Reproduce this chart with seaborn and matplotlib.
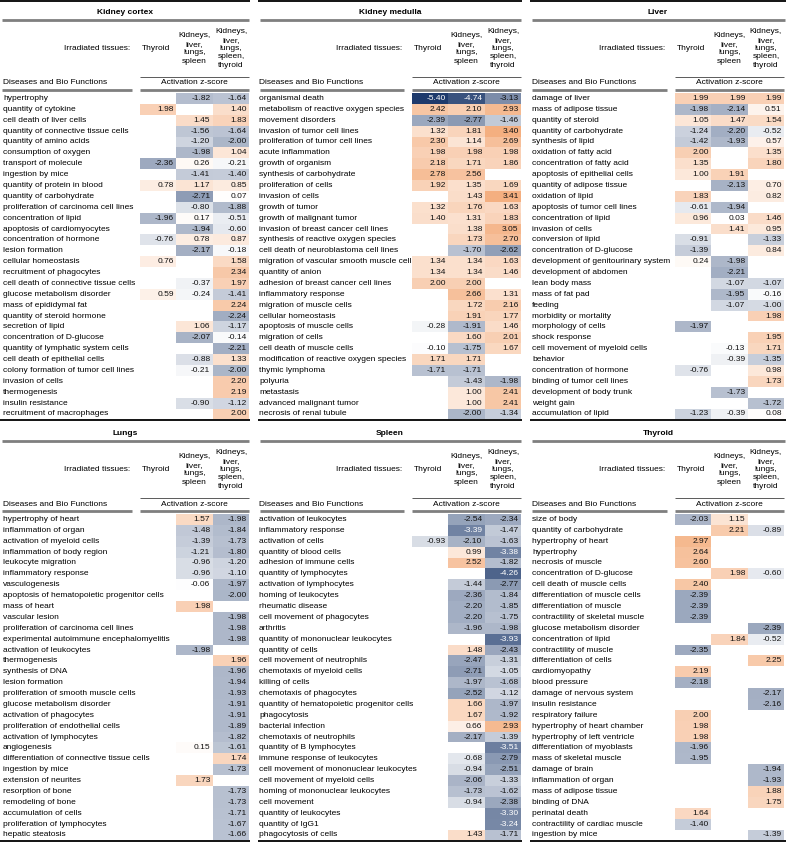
import numpy as np
import pandas as pd
import matplotlib
matplotlib.use("Agg")
import matplotlib.pyplot as plt
from matplotlib.colors import LinearSegmentedColormap
from matplotlib.lines import Line2D
import seaborn as sns

N = np.nan
COLUMNS = ["Thyroid", "Kidneys,\nliver,\nlungs,\nspleen", "Kidneys,\nliver,\nlungs,\nspleen,\nthyroid"]

# ---------------- Kidney cortex ----------------
cortex_labels = ["hypertrophy", "quantity of cytokine", "cell death of liver cells",
    "quantity of connective tissue cells", "quantity of amino acids", "consumption of oxygen",
    "transport of molecule", "ingestion by mice", "quantity of protein in blood",
    "quantity of carbohydrate", "proliferation of carcinoma cell lines", "concentration of lipid",
    "apoptosis of cardiomyocytes", "concentration of hormone", "lesion formation",
    "cellular homeostasis", "recruitment of phagocytes", "cell death of connective tissue cells",
    "glucose metabolism disorder", "mass of epididymal fat", "quantity of steroid hormone",
    "secretion of lipid", "concentration of D-glucose", "quantity of lymphatic system cells",
    "cell death of epithelial cells", "colony formation of tumor cell lines", "invasion of cells",
    "thermogenesis", "insulin resistance", "recruitment of macrophages"]
cortex_thyroid = [N, 1.98, N, N, N, N, -2.36, N, 0.78, N, N, -1.96, N, -0.76, N,
    0.76, N, N, 0.59, N, N, N, N, N, N, N, N, N, N, N]
cortex_kidneys = [-1.82, N, 1.45, -1.56, -1.20, -1.98, 0.26, -1.41, 1.17, -2.71, -0.80, 0.17,
    -1.94, 0.78, -2.17, N, N, -0.37, -0.24, N, N, 1.06, -2.07, N, -0.88, -0.21, N, N, -0.90, N]
cortex_all = [-1.64, 1.40, 1.83, -1.64, -2.00, 1.04, -0.21, -1.40, 0.85, 0.07, -1.88, -0.51,
    -0.60, 0.87, -0.18, 1.58, 2.34, 1.97, -1.41, 2.24, -2.24, -1.17, -0.14, -2.21, 1.33, -2.00,
    2.20, 2.19, -1.12, 2.00]

# ---------------- Kidney medulla ----------------
medulla_labels = ["organismal death", "metabolism of reactive oxygen species", "movement disorders",
    "invasion of tumor cell lines", "proliferation of tumor cell lines", "acute inflammation",
    "growth of organism", "synthesis of carbohydrate", "proliferation of cells", "invasion of cells",
    "growth of tumor", "growth of malignant tumor", "invasion of breast cancer cell lines",
    "synthesis of reactive oxygen species", "cell death of neuroblastoma cell lines",
    "migration of vascular smooth muscle cell", "quantity of anion",
    "adhesion of breast cancer cell lines", "inflammatory response", "migration of muscle cells",
    "cellular homeostasis", "apoptosis of muscle cells", "migration of cells",
    "cell death of muscle cells", "modification of reactive oxygen species", "thymic lymphoma",
    "polyuria", "metastasis", "advanced malignant tumor", "necrosis of renal tubule"]
medulla_thyroid = [-5.40, 2.42, -2.39, 1.32, 2.30, 1.98, 2.18, 2.78, 1.92, N, 1.32, 1.40, N, N, N,
    1.34, 1.34, 2.00, N, N, N, -0.28, N, -0.10, 1.71, -1.71, N, N, N, N]
medulla_kidneys = [-4.74, 2.10, -2.77, 1.81, 1.14, 1.98, 1.71, 2.56, 1.35, 1.43, 1.76, 1.31, 1.38,
    1.73, -1.70, 1.34, 1.34, 2.00, 2.66, 1.72, 1.91, -1.91, 1.60, -1.75, 1.71, -1.71, -1.43, 1.00,
    1.00, -2.00]
medulla_all = [-3.13, 2.93, -1.46, 3.40, 2.69, 1.98, 1.86, N, 1.69, 3.41, 1.63, 1.83, 3.05, 2.70,
    -2.62, 1.63, 1.46, N, 1.31, 2.16, 1.77, 1.46, 2.01, 1.67, N, N, -1.98, 2.41, 2.41, -1.34]

# ---------------- Liver ----------------
liver_labels = ["damage of liver", "mass of adipose tissue", "quantity of steroid",
    "quantity of carbohydrate", "synthesis of lipid", "oxidation of fatty acid",
    "concentration of fatty acid", "apoptosis of epithelial cells", "quantity of adipose tissue",
    "oxidation of lipid", "apoptosis of tumor cell lines", "concentration of lipid",
    "invasion of cells", "conversion of lipid", "concentration of D-glucose",
    "development of genitourinary system", "development of abdomen", "lean body mass",
    "mass of fat pad", "feeding", "morbidity or mortality", "morphology of cells",
    "shock response", "cell movement of myeloid cells", "behavior", "concentration of hormone",
    "binding of tumor cell lines", "development of body trunk", "weight gain",
    "accumulation of lipid"]
liver_thyroid = [1.99, -1.98, 1.05, -1.24, -1.42, 2.00, 1.35, 1.00, N, 1.83, -0.61, 0.96, N, -0.91,
    -1.39, 0.24, N, N, N, N, N, -1.97, N, N, N, -0.76, N, N, N, -1.23]
liver_kidneys = [1.99, -2.14, 1.47, -2.20, -1.93, N, N, 1.91, -2.13, N, -1.94, 0.03, 1.41, N, N,
    -1.98, -2.21, -1.07, -1.95, -1.07, N, N, N, -0.13, -0.39, N, N, -1.73, N, -0.39]
liver_all = [1.99, 0.51, 1.54, -0.52, 0.57, 1.35, 1.80, N, 0.70, 0.82, N, 1.46, 0.95, -1.33, 0.84,
    N, N, -1.07, -0.16, -1.00, 1.98, N, 1.95, 1.71, -1.35, 0.98, 1.73, N, -1.72, 0.08]

# ---------------- Lungs ----------------
lungs_labels = ["hypertrophy of heart", "inflammation of organ", "activation of myeloid cells",
    "inflammation of body region", "leukocyte migration", "inflammatory response", "vasculogenesis",
    "apoptosis of hematopoietic progenitor cells", "mass of heart", "vascular lesion",
    "proliferation of carcinoma cell lines", "experimental autoimmune encephalomyelitis",
    "activation of leukocytes", "thermogenesis", "synthesis of DNA", "lesion formation",
    "proliferation of smooth muscle cells", "glucose metabolism disorder", "activation of phagocytes",
    "proliferation of endothelial cells", "activation of lymphocytes", "angiogenesis",
    "differentiation of connective tissue cells", "ingestion by mice", "extension of neurites",
    "resorption of bone", "remodeling of bone", "accumulation of cells", "proliferation of lymphocytes",
    "hepatic steatosis"]
lungs_thyroid = [N] * 30
lungs_kidneys = [1.57, -1.48, -1.39, -1.21, -0.96, -0.96, -0.06, N, 1.98, N, N, N, -1.98, N, N, N,
    N, N, N, N, N, 0.15, N, N, 1.73, N, N, N, N, N]
lungs_all = [-1.98, -1.84, -1.73, -1.80, -1.20, -1.10, -1.97, -2.00, N, -1.98, -1.98, -1.98, N, 1.96,
    -1.96, -1.94, -1.93, -1.91, -1.91, -1.89, -1.82, -1.61, 1.74, -1.73, N, -1.73, -1.73, -1.71,
    -1.67, -1.66]

# ---------------- Spleen ----------------
spleen_labels = ["activation of leukocytes", "inflammatory response", "activation of cells",
    "quantity of blood cells", "adhesion of immune cells", "quantity of lymphocytes",
    "activation of lymphocytes", "homing of leukocytes", "rheumatic disease",
    "cell movement of phagocytes", "arthritis", "quantity of mononuclear leukocytes",
    "quantity of cells", "cell movement of neutrophils", "chemotaxis of myeloid cells",
    "killing of cells", "chemotaxis of phagocytes", "quantity of hematopoietic progenitor cells",
    "phagocytosis", "bacterial infection", "chemotaxis of neutrophils", "quantity of B lymphocytes",
    "immune response of leukocytes", "cell movement of mononuclear leukocytes",
    "cell movement of myeloid cells", "homing of mononuclear leukocytes", "cell movement",
    "quantity of leukocytes", "quantity of IgG1", "phagocytosis of cells"]
spleen_thyroid = [N, N, -0.93] + [N] * 27
spleen_kidneys = [-2.54, -3.39, -2.10, 0.99, 2.52, N, -1.44, -2.36, -2.20, -2.20, -1.96, N, 1.48,
    -2.47, -2.71, -1.97, -2.52, 1.66, 1.67, 0.66, -2.17, N, -0.68, -0.94, -2.06, -1.73, -0.94, N, N,
    1.43]
spleen_all = [-2.34, -1.47, -1.63, -3.38, -1.82, -4.26, -2.77, -1.84, -1.85, -1.75, -1.98, -3.93,
    -2.43, -1.31, -1.05, -1.68, -1.12, -1.97, -1.92, 2.93, -1.39, -3.51, -2.79, -2.51, -1.33, -1.62,
    -2.38, -3.30, -3.24, -1.71]

# ---------------- Thyroid ----------------
thyroid_labels = ["size of body", "quantity of carbohydrate", "hypertrophy of heart", "hypertrophy",
    "necrosis of muscle", "concentration of D-glucose", "cell death of muscle cells",
    "differentiation of muscle cells", "differentiation of muscle", "contractility of skeletal muscle",
    "glucose metabolism disorder", "concentration of lipid", "contractility of muscle",
    "differentiation of cells", "cardiomyopathy", "blood pressure", "damage of nervous system",
    "insulin resistance", "respiratory failure", "hypertrophy of heart chamber",
    "hypertrophy of left ventricle", "differentiation of myoblasts", "mass of skeletal muscle",
    "damage of brain", "inflammation of organ", "mass of adipose tissue", "binding of DNA",
    "perinatal death", "contractility of cardiac muscle", "ingestion by mice"]
thyroid_thyroid = [-2.03, N, 2.97, 2.64, 2.60, N, 2.40, -2.39, -2.39, -2.39, N, N, -2.35, N, 2.19,
    -2.18, N, N, 2.00, 1.98, 1.98, -1.96, -1.95, N, N, N, N, 1.64, -1.40, N]
thyroid_kidneys = [1.15, 2.21, N, N, N, 1.98, N, N, N, N, N, 1.84] + [N] * 18
thyroid_all = [N, -0.89, N, N, N, -0.60, N, N, N, N, -2.39, -0.52, N, 2.25, N, N, -2.17, -2.16,
    N, N, N, N, N, -1.94, -1.93, 1.88, 1.75, N, N, -1.39]

# ---------------- drawing ----------------
plt.rcParams["font.family"] = ["Liberation Sans", "DejaVu Sans"]
W, H = 787, 846
fig = plt.figure(figsize=(W / 100, H / 100), dpi=100)

def fx(x):
    return x / W

def fy(y):
    return 1 - y / H

def hline(x1, x2, y, lw, color):
    fig.add_artist(Line2D([fx(x1), fx(x2)], [fy(y), fy(y)], lw=lw, color=color,
                          transform=fig.transFigure, solid_capstyle="butt"))

all_values = np.array(cortex_thyroid + cortex_kidneys + cortex_all + medulla_thyroid +
                      medulla_kidneys + medulla_all + liver_thyroid + liver_kidneys + liver_all +
                      lungs_thyroid + lungs_kidneys + lungs_all + spleen_thyroid + spleen_kidneys +
                      spleen_all + thyroid_thyroid + thyroid_kidneys + thyroid_all, dtype=float)
vmin, vmax = np.nanmin(all_values), np.nanmax(all_values)
mid = -vmin / (vmax - vmin)
cmap = LinearSegmentedColormap.from_list(
    "zscore", [(0.0, "#1E3A6C"), (mid, "#FFFFFF"), (1.0, "#F4AF80")])

panels = [
    ("Kidney cortex", cortex_labels, [cortex_thyroid, cortex_kidneys, cortex_all], 0, 250, 3, 140, 0),
    ("Kidney medulla", medulla_labels, [medulla_thyroid, medulla_kidneys, medulla_all], 258, 522, 259, 412, 0),
    ("Liver", liver_labels, [liver_thyroid, liver_kidneys, liver_all], 530, 786, 532, 675, 0),
    ("Lungs", lungs_labels, [lungs_thyroid, lungs_kidneys, lungs_all], 0, 250, 3, 140, 421),
    ("Spleen", spleen_labels, [spleen_thyroid, spleen_kidneys, spleen_all], 258, 522, 259, 412, 421),
    ("Thyroid", thyroid_labels, [thyroid_thyroid, thyroid_kidneys, thyroid_all], 530, 786, 532, 675, 421),
]

col_w = 36.4
row_h = 10.88
FS = 6.0
gray = "#7F7F7F"

for title, labels, cols, pl, pr, lx, cl, y0 in panels:
    n = len(labels)
    cr = cl + 3 * col_w
    rows_top = y0 + 93
    rows_bot = rows_top + n * row_h

    if y0 == 0:
        hline(pl, pr, y0 + 1.2, 1.3, "black")
    fig.text(fx((pl + pr) / 2), fy(y0 + 13 - (1 if y0 else 0)), title, ha="center", va="center",
             fontsize=FS, fontweight="bold")
    hline(pl + 2, pr - 1, y0 + 20, 2.0, gray)

    fig.text(fx(cl - 10), fy(y0 + 48.5), "Irradiated tissues:", ha="right", va="center", fontsize=FS)
    for k, name in enumerate(COLUMNS):
        fig.text(fx(cl + (k + 0.5) * col_w - (2 if k == 0 else 0)), fy(y0 + 48.5), name,
                 ha="center", va="center", fontsize=FS, linespacing=1.27, multialignment="center")

    fig.text(fx(lx), fy(y0 + 83), "Diseases and Bio Functions", ha="left", va="center", fontsize=FS)
    hline(pl + 2, cl - 8, y0 + 90, 2.0, gray)
    hline(cl, cr, y0 + 77, 0.6, "#404040")
    fig.text(fx((cl + cr) / 2), fy(y0 + 83), "Activation z-score", ha="center", va="center", fontsize=FS)
    hline(cl, cr, y0 + 90, 2.0, gray)

    df = pd.DataFrame({c: v for c, v in zip(["Thyroid", "Kidneys4", "All5"], cols)}, index=labels)
    ax = fig.add_axes([fx(cl), fy(rows_bot), 3 * col_w / W, n * row_h / H])
    sns.heatmap(df, ax=ax, cmap=cmap, vmin=vmin, vmax=vmax, cbar=False, annot=True, fmt=".2f",
                annot_kws={"fontsize": FS}, linewidths=0, xticklabels=False, yticklabels=True)
    for t in ax.texts:
        x, y = t.get_position()
        t.set_position((x + 0.43, y))
        t.set_ha("right")
        t.set_color("white" if float(t.get_text()) <= -3.2 else "#111111")
    ax.set_yticks(np.arange(n) + 0.5)
    ax.set_yticklabels(labels, rotation=0, ha="left", fontsize=FS)
    ax.tick_params(axis="y", length=0, pad=(cl - lx) * 0.72)
    ax.set_xlabel("")
    ax.set_ylabel("")

    hline(pl, pr, rows_bot + 0.8, 1.3, "black")

fig.savefig("out.png", dpi=100)
